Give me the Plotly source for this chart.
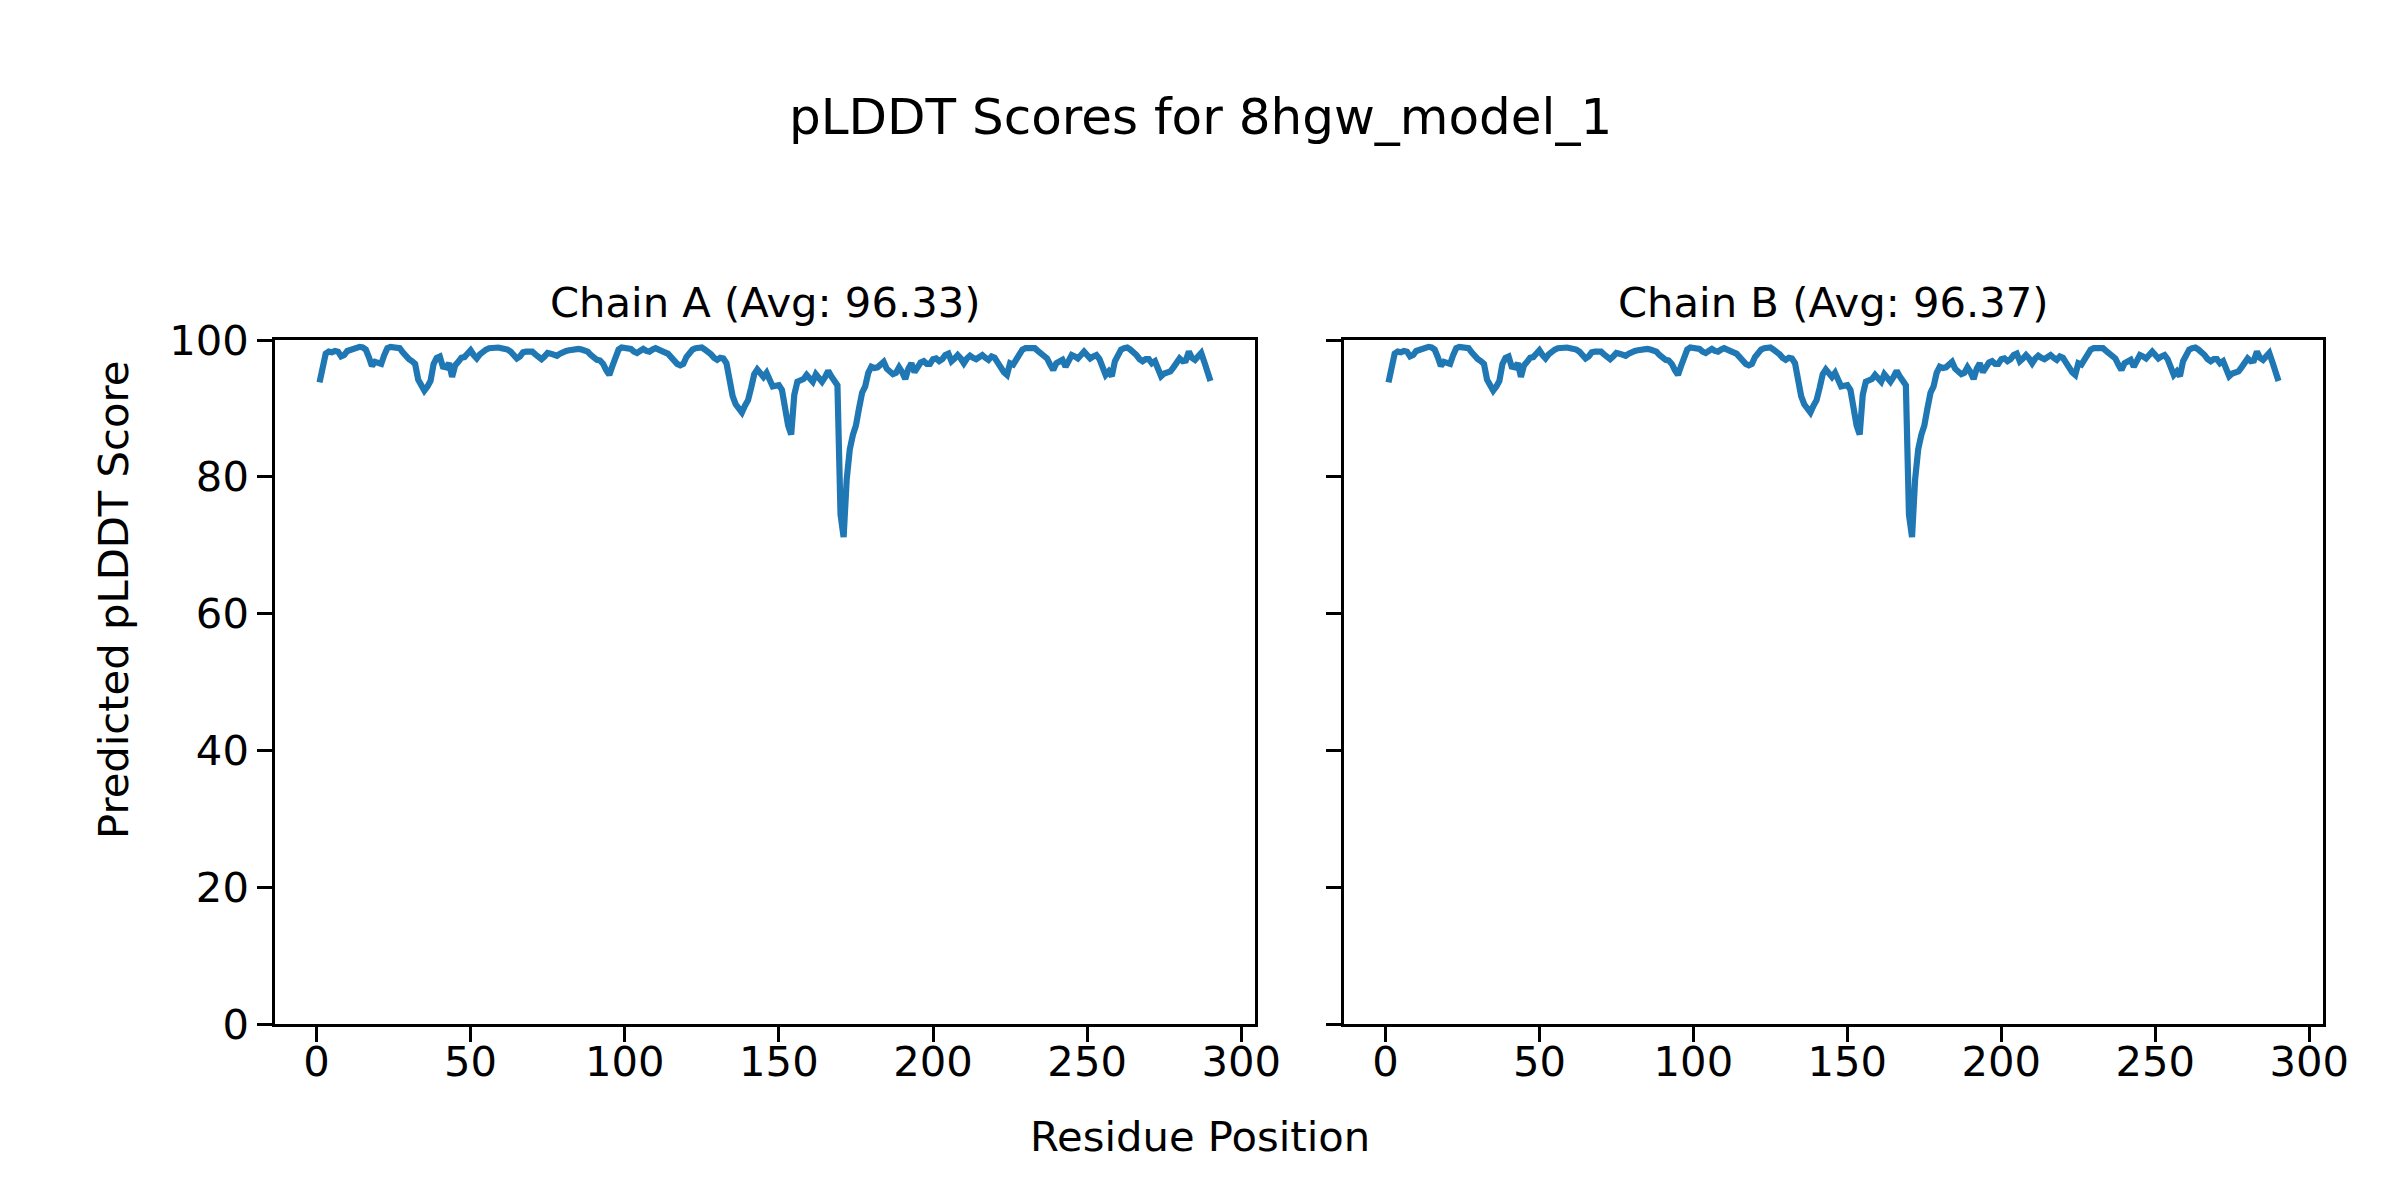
import plotly.graph_objects as go

# ---- data ----
residues = list(range(1, 291))

chain_a_scores = [
    93.8, 96.5, 98.0, 98.3, 98.2, 98.4, 98.3, 97.6, 97.8, 98.4,
    98.6, 98.8, 99.0, 99.0, 98.9, 98.6, 97.5, 96.2, 96.8, 96.6,
    96.5, 97.8, 98.8, 99.0, 99.0, 99.0, 98.8, 98.2, 97.6, 97.2,
    96.9, 96.5, 94.2, 93.3, 92.6, 93.2, 94.0, 96.5, 97.4, 97.6,
    96.1, 96.0, 96.6, 94.6, 96.3, 96.8, 97.4, 97.5, 98.0, 98.5,
    97.8, 97.3, 97.9, 98.4, 98.6, 98.8, 98.9, 98.9, 98.9, 98.8,
    98.8, 98.6, 98.3, 97.8, 97.3, 97.6, 98.2, 98.3, 98.2, 98.3,
    97.9, 97.4, 97.2, 97.6, 98.1, 98.0, 97.8, 97.7, 98.0, 98.3,
    98.4, 98.5, 98.6, 98.7, 98.7, 98.6, 98.5, 98.3, 97.8, 97.3,
    97.1, 97.0, 96.5, 95.6, 94.9, 96.2, 97.5, 98.6, 98.9, 98.9,
    98.9, 98.7, 98.3, 98.1, 98.4, 98.7, 98.4, 98.3, 98.6, 98.8,
    98.6, 98.3, 98.2, 98.0, 97.5, 96.9, 96.5, 96.3, 96.5, 97.5,
    98.2, 98.6, 98.8, 98.9, 98.9, 98.6, 98.3, 97.9, 97.4, 97.1,
    97.4, 97.3, 96.6, 93.5, 91.8, 90.6, 90.0, 89.4, 90.4, 91.2,
    93.0, 95.0, 95.7, 95.2, 94.6, 95.2, 94.4, 93.2, 93.3, 93.4,
    92.7, 90.0, 87.5, 86.2, 92.0, 93.9, 94.1, 94.3, 94.9, 94.2,
    93.9, 95.0, 94.6, 93.9, 94.6, 95.5, 94.7, 93.9, 93.4, 74.5,
    71.2, 79.6, 84.0, 86.1, 87.5, 90.0, 92.3, 93.2, 95.2, 96.1,
    95.9, 96.0, 96.4, 96.8, 95.8, 95.3, 95.0, 95.2, 96.0, 95.3,
    94.3, 95.8, 96.6, 95.3, 96.0, 96.7, 96.9, 96.5, 96.5, 97.2,
    97.3, 96.9, 97.2, 97.8, 98.0, 96.9, 97.3, 97.8, 97.3, 96.6,
    97.3, 97.7, 97.4, 97.2, 97.5, 97.8, 97.4, 97.1, 97.6, 97.4,
    96.7, 95.9, 95.3, 94.9, 96.6, 96.4, 97.3, 98.1, 98.6, 98.8,
    98.8, 98.8, 98.8, 98.4, 98.1, 97.7, 97.3, 96.4, 95.6, 96.6,
    96.8, 97.1, 96.1, 96.9, 97.8, 97.6, 97.3, 97.8, 98.3, 97.8,
    97.3, 97.6, 97.8, 97.2, 96.3, 94.9, 95.4, 94.7, 96.9, 98.0,
    98.6, 98.8, 98.9, 98.6, 98.3, 97.8, 97.2, 96.9, 97.2, 97.2,
    96.6, 96.9, 95.8, 94.7, 95.1, 95.3, 95.4, 96.0, 96.5, 97.3,
    96.9, 97.0, 98.3, 97.4, 97.1, 97.8, 98.1, 96.8, 95.5, 94.0,
]

# Chain B looks identical to chain A in the picture
chain_b_scores = list(chain_a_scores)

panel_titles = ["Chain A (Avg: 96.33)", "Chain B (Avg: 96.37)"]
main_title = "pLDDT Scores for 8hgw_model_1"
x_label = "Residue Position"
y_label = "Predicted pLDDT Score"
x_ticks = [0, 50, 100, 150, 200, 250, 300]
y_ticks = [0, 20, 40, 60, 80, 100]

# ---- styling ----
W, H = 2400, 1200
OFF = 8  # page body margin compensation (px)
FONT = "DejaVu Sans"
TICK_PX = 41.7
TITLE_PX = 50
LINE_COLOR = "#1f77b4"


def fx(px):
    return (px - OFF) / W


def fy(px):
    return 1 - (px - OFF) / H


pad = 0.05 * (residues[-1] - residues[0])
x_range = [residues[0] - pad, residues[-1] + pad]

dom_x1 = [fx(275), fx(1255)]
dom_x2 = [fx(1344), fx(2323)]
dom_y = [fy(1024), fy(340)]

fig = go.Figure()
fig.add_trace(go.Scatter(x=residues, y=chain_a_scores, mode="lines",
                         line=dict(color=LINE_COLOR, width=6.2),
                         xaxis="x", yaxis="y", showlegend=False))
fig.add_trace(go.Scatter(x=residues, y=chain_b_scores, mode="lines",
                         line=dict(color=LINE_COLOR, width=6.2),
                         xaxis="x2", yaxis="y2", showlegend=False))

axis_common = dict(
    showgrid=False, zeroline=False, automargin=False,
    showline=True, mirror=True, linecolor="black", linewidth=3.3,
    ticks="outside", ticklen=14.6, tickwidth=3.3, tickcolor="black",
    tickfont=dict(family=FONT, size=TICK_PX, color="black"),
)

fig.update_layout(
    width=W, height=H, autosize=False,
    margin=dict(l=0, r=0, t=0, b=0, pad=0, autoexpand=False),
    paper_bgcolor="white", plot_bgcolor="white",
    font=dict(family=FONT, color="black"),
    xaxis=dict(domain=dom_x1, range=x_range, tickvals=x_ticks, anchor="y",
               ticklabelstandoff=-16, **axis_common),
    yaxis=dict(domain=dom_y, range=[0, 100], tickvals=y_ticks, anchor="x",
               ticklabelstandoff=0, **axis_common),
    xaxis2=dict(domain=dom_x2, range=x_range, tickvals=x_ticks, anchor="y2",
                ticklabelstandoff=-16, **axis_common),
    yaxis2=dict(domain=dom_y, range=[0, 100], tickvals=y_ticks, anchor="x2",
                showticklabels=False, **axis_common),
)

text_font = dict(family=FONT, size=TICK_PX, color="black")
annotations = [
    dict(text=main_title, x=0.5 - OFF / W, y=fy(117), xref="paper", yref="paper",
         xanchor="center", yanchor="middle", showarrow=False,
         font=dict(family=FONT, size=TITLE_PX, color="black")),
    dict(text=panel_titles[0], x=(dom_x1[0] + dom_x1[1]) / 2, y=fy(302),
         xref="paper", yref="paper", xanchor="center", yanchor="middle",
         showarrow=False, font=text_font),
    dict(text=panel_titles[1], x=(dom_x2[0] + dom_x2[1]) / 2, y=fy(302),
         xref="paper", yref="paper", xanchor="center", yanchor="middle",
         showarrow=False, font=text_font),
    dict(text=x_label, x=0.5 - OFF / W, y=fy(1136), xref="paper", yref="paper",
         xanchor="center", yanchor="middle", showarrow=False, font=text_font),
    dict(text=y_label, x=fx(113), y=fy(600), xref="paper", yref="paper",
         xanchor="center", yanchor="middle", showarrow=False, textangle=-90,
         font=text_font),
]
fig.update_layout(annotations=annotations)

fig.write_html("out.html")
